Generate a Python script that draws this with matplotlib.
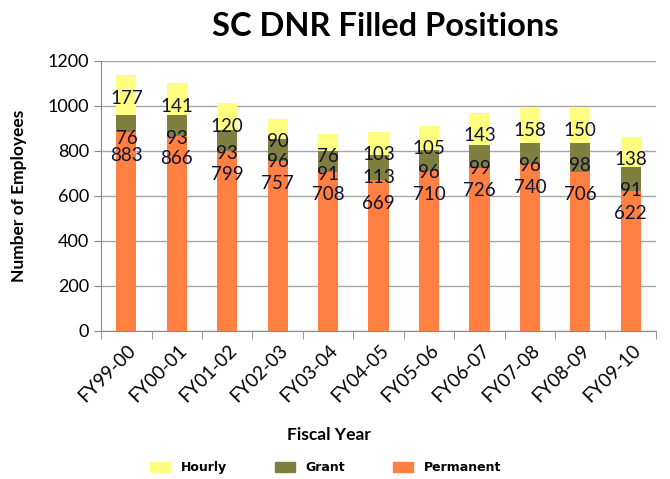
import matplotlib
matplotlib.use("Agg")
import matplotlib.pyplot as plt
import matplotlib.transforms as mtransforms
import numpy as np
from matplotlib.patches import Patch

categories = ["FY99-00", "FY00-01", "FY01-02", "FY02-03", "FY03-04", "FY04-05",
              "FY05-06", "FY06-07", "FY07-08", "FY08-09", "FY09-10"]
# bar heights as drawn in the chart
permanent = [883, 866, 799, 757, 708, 669, 710, 726, 740, 706, 622]
grant = [76, 93, 93, 96, 91, 113, 96, 99, 96, 129, 106]
hourly = [177, 141, 120, 90, 76, 103, 105, 143, 158, 158, 135]
# data label texts as printed on the chart
permanent_labels = [883, 866, 799, 757, 708, 669, 710, 726, 740, 706, 622]
grant_labels = [76, 93, 93, 96, 91, 113, 96, 99, 96, 98, 91]
hourly_labels = [177, 141, 120, 90, 76, 103, 105, 143, 158, 150, 138]
yticks = [0, 200, 400, 600, 800, 1000, 1200]

c_perm = "#FF8040"
c_grant = "#7F7F3F"
c_hour = "#FFFF80"
txt = "#111133"
FONT = ["Lato", "DejaVu Sans"]
plt.rcParams["font.family"] = FONT

fig = plt.figure(figsize=(6.7, 4.79), dpi=100)
ax = fig.add_axes([0.151, 0.309, 0.828, 0.564])

x = np.arange(len(categories))
perm = np.array(permanent)
gr = np.array(grant)
hr = np.array(hourly)
ax.bar(x, perm, width=0.4, color=c_perm, zorder=2)
ax.bar(x, gr, width=0.4, bottom=perm, color=c_grant, zorder=2)
ax.bar(x, hr, width=0.4, bottom=perm + gr, color=c_hour, zorder=2)

tops = [perm, perm + gr, perm + gr + hr]
labs = [permanent_labels, grant_labels, hourly_labels]
for top, lab in zip(tops, labs):
    for i in range(len(x)):
        ax.annotate(str(lab[i]), (x[i], top[i]), xytext=(0, -16.5),
                    textcoords="offset points", ha="center", va="center",
                    fontsize=13.5, color=txt, zorder=3)

ax.set_xlim(-0.5, len(x) - 0.5)
ax.set_ylim(0, 1200)
ax.set_yticks(yticks)
ax.set_yticklabels([str(v) for v in yticks], fontsize=13)
ax.yaxis.grid(True, color="#A6A6A6", linewidth=1, zorder=0)
ax.set_axisbelow(True)
ax.tick_params(axis="y", length=5, color="#888888", direction="out")

ax.set_xticks(x)
ax.set_xticklabels(categories, rotation=45, ha="right", va="center",
                   rotation_mode="anchor", fontsize=13.5)
ax.tick_params(axis="x", length=0, pad=12)
shift = mtransforms.ScaledTranslation(7 / 100, 0, fig.dpi_scale_trans)
for lbl in ax.get_xticklabels():
    lbl.set_transform(lbl.get_transform() + shift)
ax.set_xticks(np.arange(-0.5, len(x), 1.0), minor=True)
ax.tick_params(axis="x", which="minor", length=6, color="#888888")

for s in ["top", "right"]:
    ax.spines[s].set_visible(False)
for s in ["left", "bottom"]:
    ax.spines[s].set_color("#888888")

ax.set_ylabel("Number of Employees", fontsize=12.5, fontweight="bold", labelpad=15)
fig.text(0.491, 0.092, "Fiscal Year", ha="center", va="center",
         fontsize=12.5, fontweight="bold")
fig.text(0.575, 0.944, "SC DNR Filled Positions", ha="center", va="center",
         fontsize=23.5, fontweight="bold")

handles = [Patch(color=c_hour, label="Hourly"),
           Patch(color=c_grant, label="Grant"),
           Patch(color=c_perm, label="Permanent")]
leg = fig.legend(handles=handles, loc="center", bbox_to_anchor=(0.486, 0.023),
                 ncol=3, frameon=False,
                 prop={"family": "DejaVu Sans", "size": 9, "weight": "bold"},
                 handlelength=1.6, handleheight=0.8, columnspacing=3.8,
                 handletextpad=0.9)

fig.savefig("out.png", dpi=100)
